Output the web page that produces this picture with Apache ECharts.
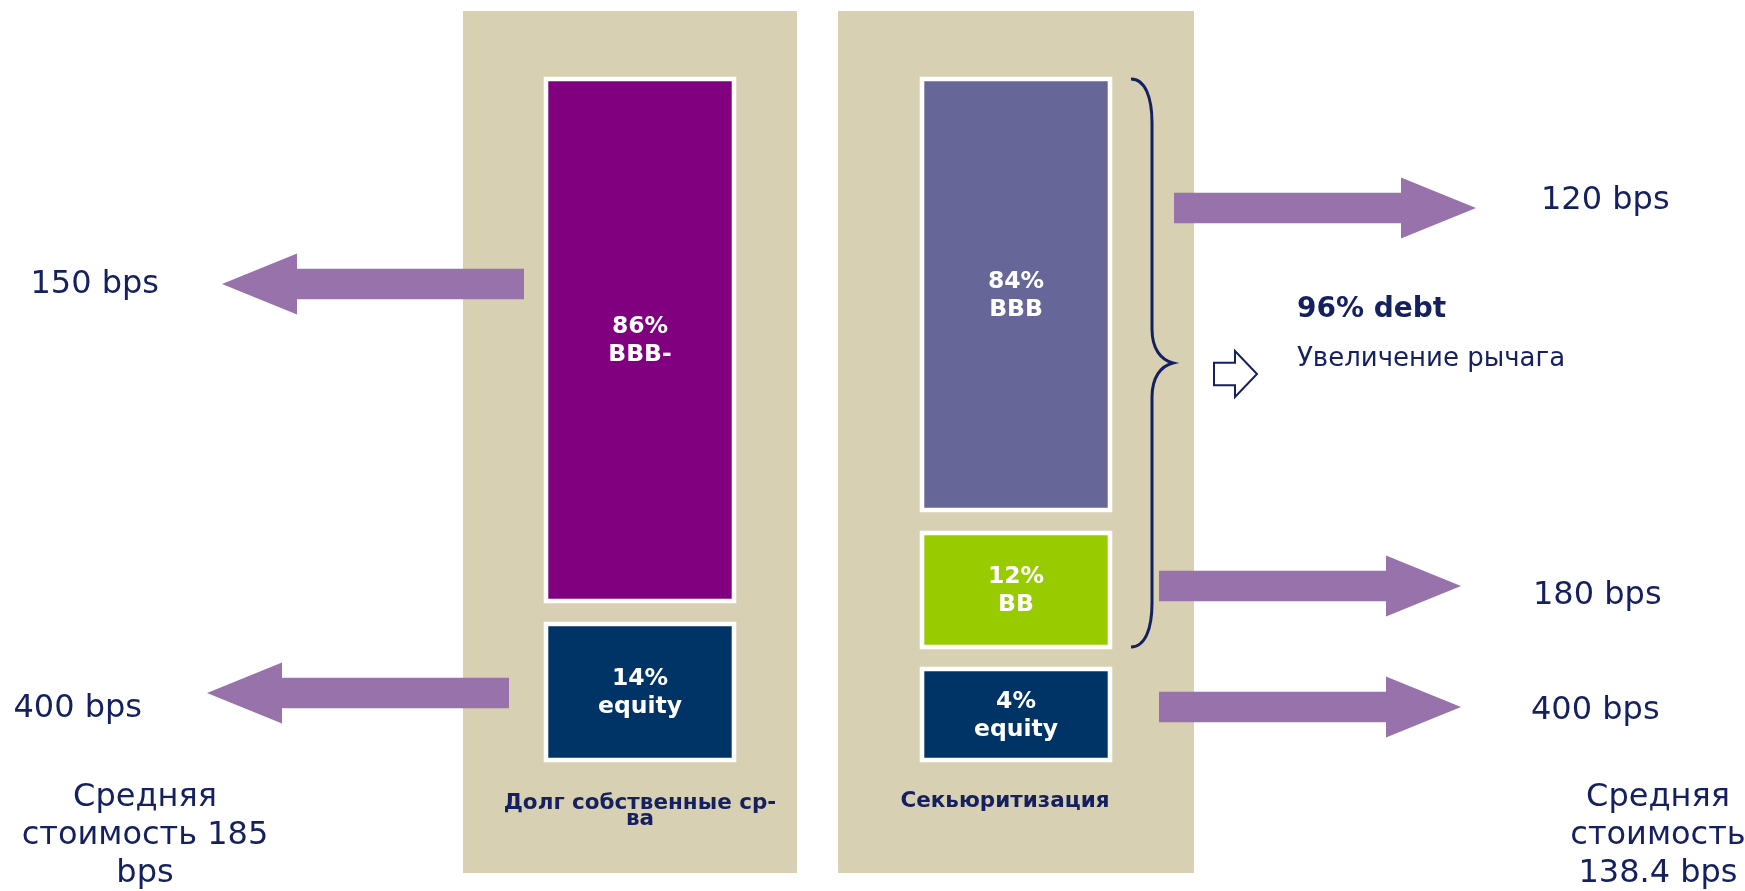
<!DOCTYPE html>
<html>
<head>
<meta charset="utf-8">
<title>Секьюритизация</title>
<script src="https://cdn.jsdelivr.net/npm/echarts@6/dist/echarts.min.js"></script>
<style>
  html, body { margin: 0; padding: 0; background: #fff; }
  #chart { width: 1745px; height: 891px; }
</style>
</head>
<body>
<div id="chart"></div>
<script>
(function () {
  'use strict';

  // структуры финансирования (колонки)
  var structures = ['Долг собственные ср-ва', 'Секьюритизация'];
  var structureTitles = ['Долг собственные ср-\nва', 'Секьюритизация'];

  // транши: структура, доля %, рейтинг, стоимость bps
  var trancheStructure = [0, 0, 1, 1, 1];
  var trancheShare = [86, 14, 84, 12, 4];
  var trancheRating = ['BBB-', 'equity', 'BBB', 'BB', 'equity'];
  var trancheCost = [150, 400, 120, 180, 400];

  // средняя стоимость, bps
  var averageCost = [185, 138.4];
  var averageText = ['Средняя\nстоимость {v}\nbps', 'Средняя\nстоимость\n{v} bps'];

  // долг во второй структуре
  var debtShare = 96;
  var debtNote = 'Увеличение рычага';

  // ---- раскладка (не данные) ----
  var trancheTop = [79, 624, 79, 533, 669];
  var trancheBottom = [601, 760, 510, 647, 760];
  var trancheColor = ['#800080', '#003366', '#666699', '#99cc00', '#003366'];
  var arrowY = [284, 693, 208, 586, 707];
  var arrowStart = [116, 131, 158, 143, 143];
  var costLabelY = [285, 709, 201, 596, 711];
  var costLabelGap = [63, 65, 65, 72, 70];
  var panelLeft = [-177, -178];
  var panelRight = [157, 178];
  var titleY = [811, 801];
  var titleDx = [0, -11];
  var averageDx = [-495, 642];

  var TEXT_COLOR = '#14205f';
  var ARROW_COLOR = '#9873ab';
  var PANEL_COLOR = '#d8d0b2';
  var FONT = '"DejaVu Sans", Verdana, sans-serif';
  var PANEL_TOP = 11, PANEL_BOTTOM = 873, AVERAGE_Y = 836;
  var BOX_HALF = 94, ARROW_LEN = 302, HEAD_LEN = 75, BODY_HALF = 15.3, HEAD_HALF = 30.5;

  function textEl(text, x, y, size, weight, align, lineHeight, color) {
    return {
      type: 'text',
      style: {
        text: text,
        x: x,
        y: y,
        fill: color || TEXT_COLOR,
        fontSize: size,
        fontWeight: weight,
        fontFamily: FONT,
        align: align,
        verticalAlign: 'middle',
        lineHeight: lineHeight
      }
    };
  }

  // фон колонки + подписи
  function renderPanel(params, api) {
    var s = api.value(0);
    var top = api.coord([s, PANEL_TOP]);
    var bottom = api.coord([s, PANEL_BOTTOM]);
    var cx = top[0];
    var avg = averageText[s].replace('{v}', averageCost[s]);
    return {
      type: 'group',
      children: [
        {
          type: 'rect',
          shape: { x: cx + panelLeft[s], y: top[1], width: panelRight[s] - panelLeft[s], height: bottom[1] - top[1] },
          style: { fill: PANEL_COLOR }
        },
        textEl(structureTitles[s], cx + titleDx[s], api.coord([s, titleY[s]])[1], 21.5, 'bold', 'center', 16),
        textEl(avg, cx + averageDx[s], api.coord([s, AVERAGE_Y])[1], 32, 'normal', 'center', 38)
      ]
    };
  }

  // транш + стрелка стоимости
  function renderTranche(params, api) {
    var i = params.dataIndex;
    var s = api.value(0);
    var dir = s === 0 ? -1 : 1;
    var p0 = api.coord([s, trancheTop[i]]);
    var p1 = api.coord([s, trancheBottom[i]]);
    var cx = p0[0];
    var ay = api.coord([s, arrowY[i]])[1];
    var ly = api.coord([s, costLabelY[i]])[1];
    var start = cx + dir * arrowStart[i];
    var tip = start + dir * ARROW_LEN;
    var base = tip - dir * HEAD_LEN;
    var points = [
      [start, ay - BODY_HALF], [base, ay - BODY_HALF], [base, ay - HEAD_HALF], [tip, ay],
      [base, ay + HEAD_HALF], [base, ay + BODY_HALF], [start, ay + BODY_HALF]
    ];
    return {
      type: 'group',
      children: [
        {
          type: 'rect',
          shape: { x: cx - BOX_HALF, y: p0[1], width: BOX_HALF * 2, height: p1[1] - p0[1] },
          style: { fill: trancheColor[i], stroke: '#ffffff', lineWidth: 4.6 }
        },
        textEl(api.value(1) + '%\n' + trancheRating[i], cx, (p0[1] + p1[1]) / 2 + 1, 23.5, 'bold', 'center', 28, '#ffffff'),
        { type: 'polygon', shape: { points: points }, style: { fill: ARROW_COLOR } },
        textEl(trancheCost[i] + ' bps', tip + dir * costLabelGap[i], ly, 32, 'normal', dir < 0 ? 'right' : 'left', 38)
      ]
    };
  }

  // фигурная скобка над долговыми траншами
  function renderDebt(params, api) {
    var s = api.value(0);
    var first = -1, last = -1;
    for (var k = 0; k < trancheStructure.length; k++) {
      if (trancheStructure[k] === s && trancheRating[k] !== 'equity') {
        if (first < 0) { first = k; }
        last = k;
      }
    }
    var top = api.coord([s, trancheTop[first]]);
    var bottom = api.coord([s, trancheBottom[last]]);
    var cx = top[0];
    var y0 = top[1], y1 = bottom[1], ym = (y0 + y1) / 2;
    var xa = cx + 115, xb = cx + 136, xc = cx + 157;
    var d = 'M' + xa + ' ' + y0 +
      ' C' + (xa + 14) + ' ' + y0 + ' ' + xb + ' ' + (y0 + 18) + ' ' + xb + ' ' + (y0 + 44) +
      ' L' + xb + ' ' + (ym - 34) +
      ' C' + xb + ' ' + (ym - 14) + ' ' + (xc - 12) + ' ' + (ym - 3) + ' ' + xc + ' ' + ym +
      ' C' + (xc - 12) + ' ' + (ym + 3) + ' ' + xb + ' ' + (ym + 14) + ' ' + xb + ' ' + (ym + 34) +
      ' L' + xb + ' ' + (y1 - 44) +
      ' C' + xb + ' ' + (y1 - 18) + ' ' + (xa + 14) + ' ' + y1 + ' ' + xa + ' ' + y1;
    var ay = ym + 11;
    var hx0 = cx + 198, hx1 = cx + 219, hx2 = cx + 241;
    var hollow = [
      [hx0, ay - 11.2], [hx1, ay - 11.2], [hx1, ay - 23], [hx2, ay],
      [hx1, ay + 23], [hx1, ay + 11.2], [hx0, ay + 11.2]
    ];
    return {
      type: 'group',
      children: [
        { type: 'path', shape: { pathData: d }, style: { fill: 'none', stroke: TEXT_COLOR, lineWidth: 3 } },
        { type: 'polygon', shape: { points: hollow }, style: { fill: '#ffffff', stroke: TEXT_COLOR, lineWidth: 2 } },
        textEl(api.value(1) + '% debt', cx + 281, ym - 53, 28, 'bold', 'left', 32),
        textEl(debtNote, cx + 281, ym - 4, 26, 'normal', 'left', 30)
      ]
    };
  }

  var chart = echarts.init(document.getElementById('chart'));

  var option = {
    animation: false,
    backgroundColor: '#ffffff',
    grid: { left: 452, right: 541, top: 0, bottom: 0 },
    xAxis: { type: 'category', data: structures, show: false },
    yAxis: { type: 'value', min: 0, max: 891, inverse: true, show: false },
    series: [
      {
        type: 'custom',
        silent: true,
        clip: false,
        renderItem: renderPanel,
        data: structures.map(function (name, i) { return [i, averageCost[i]]; })
      },
      {
        type: 'custom',
        silent: true,
        clip: false,
        renderItem: renderTranche,
        data: trancheShare.map(function (v, i) { return [trancheStructure[i], v]; })
      },
      {
        type: 'custom',
        silent: true,
        clip: false,
        renderItem: renderDebt,
        data: [[1, debtShare]]
      }
    ]
  };

  chart.setOption(option);
})();
</script>
</body>
</html>
